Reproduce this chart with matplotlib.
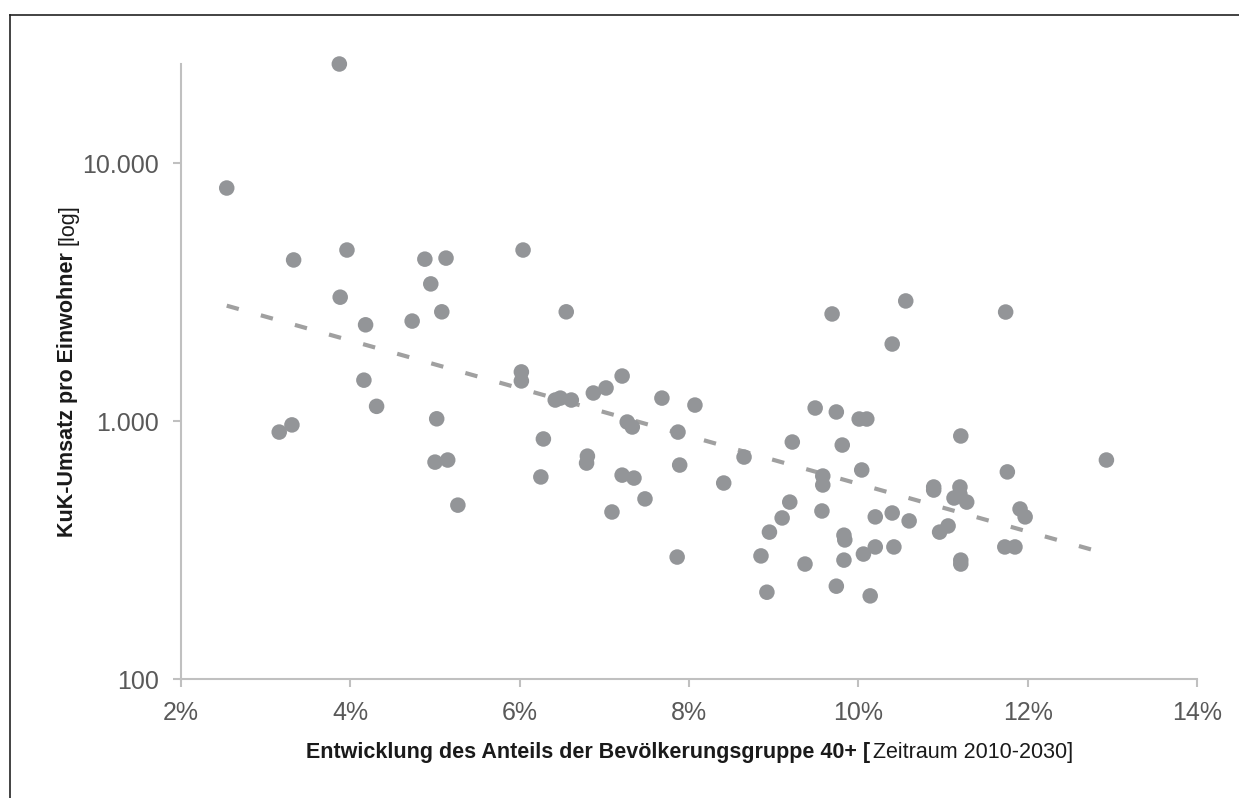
import matplotlib
matplotlib.use("Agg")
import matplotlib.pyplot as plt
from matplotlib.lines import Line2D
import numpy as np

plt.rcParams['font.family'] = ['Liberation Sans', 'DejaVu Sans']

# Anteil 40+ Entwicklung (%) und KuK-Umsatz pro Einwohner
anteil = [2.54, 3.87, 3.33, 3.96, 3.88, 4.18, 4.16, 4.31, 3.16, 3.31,
          4.73, 4.88, 5.13, 4.95, 5.08, 5.02, 5.00, 5.15, 5.27,
          6.04, 6.02, 6.02, 6.55, 6.28, 6.25, 6.42, 6.48, 6.61, 6.80, 6.79,
          6.87, 7.02, 7.21, 7.21, 7.09, 7.27, 7.33, 7.35, 7.48, 7.68,
          7.87, 7.89, 7.86, 8.07,
          8.65, 8.41, 9.22, 9.81, 9.49, 9.74, 10.01, 10.10, 10.04, 9.58,
          9.58, 9.19, 9.57, 9.10, 8.95, 8.85, 8.92, 9.37, 9.74, 9.83,
          9.84, 9.83, 10.06, 10.20, 10.14, 10.20, 10.40, 10.42, 10.60, 10.89,
          10.89, 10.96, 11.06, 11.13, 11.20, 11.20, 11.28, 11.21, 11.21, 11.21,
          11.76, 11.73, 11.85, 11.91, 11.97, 12.93,
          9.69, 10.56, 11.74, 10.40]
umsatz = [8000, 24200, 4210, 4600, 3020, 2360, 1440, 1140, 906, 966,
          2440, 4240, 4280, 3400, 2650, 1020, 693, 706, 472,
          4600, 1550, 1430, 2650, 852, 607, 1206, 1227, 1206, 731, 687,
          1284, 1343, 1494, 617, 444, 991, 948, 601, 499, 1227,
          906, 675, 297, 1153,
          725, 575, 829, 807, 1123, 1084, 1018, 1018, 646, 612,
          565, 485, 448, 421, 371, 300, 217, 279, 229, 361,
          346, 289, 305, 325, 210, 425, 440, 325, 410, 555,
          540, 371, 392, 503, 555, 520, 485, 875, 289, 279,
          635, 325, 325, 456, 425, 706,
          2600, 2920, 2645, 1988]

x_ticks = [2, 4, 6, 8, 10, 12, 14]
y_ticks = [100, 1000, 10000]
y_tick_labels = ['100', '1.000', '10.000']

x = np.array(anteil)
y = np.array(umsatz)

fig = plt.figure(figsize=(12.39, 7.98), dpi=100)
ax = fig.add_axes([0.1461, 0.1491, 0.8200, 0.7707])

point_col = '#939598'
ax.scatter(x, y, s=125, color=point_col, edgecolors='none', zorder=3, clip_on=False)

# exponentieller Trend (wie Excel)
b, a = np.polyfit(x, np.log(y), 1)
xt = np.linspace(x.min(), x.max(), 50)
ax.plot(xt, np.exp(a + b * xt), color='#a0a0a0', lw=3.0,
        linestyle=(0, (3, 5.5)), zorder=2)

ax.set_yscale('log')
ax.set_xlim(2, 14)
ax.set_ylim(100, 24200)
ax.set_xticks(x_ticks)
ax.set_xticklabels([f'{t}%' for t in x_ticks])
ax.set_yticks(y_ticks)
ax.set_yticklabels(y_tick_labels)
ax.yaxis.set_minor_locator(matplotlib.ticker.NullLocator())

for s in ['top', 'right']:
    ax.spines[s].set_visible(False)
for s in ['left', 'bottom']:
    ax.spines[s].set_color('#c0c0c0')
    ax.spines[s].set_linewidth(1.5)
ax.tick_params(axis='both', which='major', length=6, width=1.5, color='#c0c0c0',
               labelsize=18, labelcolor='#595959', pad=10)

# Achsenbeschriftungen (fett + normal)
fig.canvas.draw()
r = fig.canvas.get_renderer()
lab_col = '#1a1a1a'
fs = 15.5
W = fig.bbox.width
H = fig.bbox.height

t1 = fig.text(0, 0, 'Entwicklung des Anteils der Bevölkerungsgruppe 40+ [',
              fontsize=fs, fontweight='bold', color=lab_col, va='baseline')
t2 = fig.text(0, 0, 'Zeitraum 2010-2030]', fontsize=fs, color=lab_col, va='baseline')
w1 = t1.get_window_extent(r).width
w2 = t2.get_window_extent(r).width
xc = 688.0
x0 = xc - (w1 + w2) / 2
t1.set_position((x0 / W, 1 - 758.0 / H))
t2.set_position(((x0 + w1 + 3) / W, 1 - 758.0 / H))

y1 = fig.text(0.0545, 0, 'KuK-Umsatz pro Einwohner', fontsize=fs, fontweight='bold',
              color=lab_col, rotation=90, ha='center', va='bottom')
y2 = fig.text(0.0545, 0, '[log]', fontsize=fs, color=lab_col, rotation=90,
              ha='center', va='bottom')
h1 = y1.get_window_extent(r).height
h2 = y2.get_window_extent(r).height
yc = H - 371.0
y0 = yc - (h1 + h2 + 7) / 2
y1.set_y(y0 / H)
y2.set_y((y0 + h1 + 7) / H)

# Rahmen
fig.add_artist(Line2D([9.5 / W, 9.5 / W], [0, 1 - 15 / H], transform=fig.transFigure,
                      color='#222222', lw=1.2))
fig.add_artist(Line2D([9.5 / W, 1], [1 - 15 / H, 1 - 15 / H], transform=fig.transFigure,
                      color='#222222', lw=1.2))

fig.savefig('out.png', dpi=100)
